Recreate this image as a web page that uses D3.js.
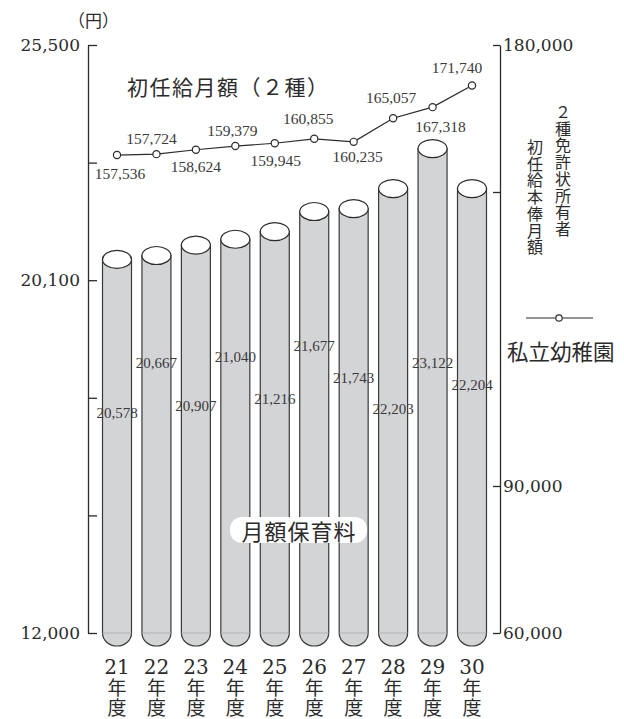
<!DOCTYPE html>
<html>
<head>
<meta charset="utf-8">
<script src="https://cdn.jsdelivr.net/npm/d3@7"></script>
<style>
  body { margin: 0; background: #fff; }
  svg { display: block; }
</style>
</head>
<body>
<div id="chart"></div>
<script>
// data
const years = ["21", "22", "23", "24", "25", "26", "27", "28", "29", "30"];
const hoikuryo = [20578, 20667, 20907, 21040, 21216, 21677, 21743, 22203, 23122, 22204];
const shoninkyu = [157536, 157724, 158624, 159379, 159945, 160855, 160235, 165057, 167318, 171740];
const leftTicks = [12000, 14700, 17400, 20100, 22800, 25500];
const leftLabeled = [12000, 20100, 25500];
const rightTicks = [60000, 90000, 150000, 180000];
const rightLabeled = [60000, 90000, 180000];

// label layout (pixels)
const barLabelY = [413, 363, 406, 357, 399, 346, 378, 409, 363, 385];
const lineLabelDx = [3, -5, 0, -3, 1, -6, 4, -2, 8, -15];
const lineLabelDy = [18, -16, 17, -16, 17, -20, 15, -21, 19, -18];

const width = 624, height = 719;
const baseY = 633, topY = 45;
const axisLeftX = 88, axisRightX = 500;
const jpFont = "'Noto Sans CJK JP', 'Noto Sans', sans-serif";
const numFont = "'DejaVu Serif', serif";
const labFont = "'Liberation Serif', serif";
const ink = "#2b2b2b";

const svg = d3.select("#chart").append("svg")
    .attr("width", width)
    .attr("height", height);

// scales
const x = d3.scalePoint().domain(years).range([117, 472]);
const yL = d3.scaleLinear().domain([12000, 25500]).range([baseY, topY]);
const yR = d3.scaleLinear().domain([60000, 180000]).range([baseY, topY]);

// left axis
const leftAxis = svg.append("g")
    .attr("transform", `translate(${axisLeftX},0)`)
    .call(d3.axisLeft(yL)
        .tickValues(leftTicks)
        .tickSizeInner(-9)
        .tickSizeOuter(0)
        .tickPadding(8)
        .tickFormat(d => leftLabeled.includes(d) ? d3.format(",")(d) : ""));
leftAxis.select(".domain").attr("stroke", ink).attr("stroke-width", 1.3);
leftAxis.selectAll(".tick line").attr("stroke", ink).attr("stroke-width", 1.3);
leftAxis.selectAll(".tick text")
    .attr("fill", ink)
    .style("font-family", numFont)
    .style("font-size", "17px");

// right axis
const rightAxis = svg.append("g")
    .attr("transform", `translate(${axisRightX},0)`)
    .call(d3.axisRight(yR)
        .tickValues(rightTicks)
        .tickSizeInner(-7)
        .tickSizeOuter(0)
        .tickPadding(3)
        .tickFormat(d => rightLabeled.includes(d) ? d3.format(",")(d) : ""));
rightAxis.select(".domain").attr("stroke", ink).attr("stroke-width", 1.3);
rightAxis.selectAll(".tick line").attr("stroke", ink).attr("stroke-width", 1.3);
rightAxis.selectAll(".tick text")
    .attr("fill", ink)
    .style("font-family", numFont)
    .style("font-size", "17px");

svg.append("text")
    .attr("x", 68)
    .attr("y", 19)
    .attr("dominant-baseline", "central")
    .attr("fill", ink)
    .style("font-family", jpFont)
    .style("font-size", "17px")
    .text("（円）");

// cylinders
const rx = 14.5, ry = 9, bottomRy = 13;
const bars = svg.append("g").selectAll("g")
    .data(years.map((y, i) => ({ year: y, value: hoikuryo[i], i })))
    .join("g");

bars.append("path")
    .attr("d", d => {
        const cx = x(d.year), top = yL(d.value);
        return `M${cx - rx},${top} L${cx - rx},${baseY} A${rx},${bottomRy} 0 0 0 ${cx + rx},${baseY} L${cx + rx},${top} Z`;
    })
    .attr("fill", "#d3d4d6")
    .attr("stroke", "#3a3a3a")
    .attr("stroke-width", 1.2);

bars.append("line")
    .attr("x1", d => x(d.year) - rx)
    .attr("x2", d => x(d.year) + rx)
    .attr("y1", baseY)
    .attr("y2", baseY)
    .attr("stroke", "#a9aaac")
    .attr("stroke-width", 0.8);

bars.append("ellipse")
    .attr("cx", d => x(d.year))
    .attr("cy", d => yL(d.value))
    .attr("rx", rx)
    .attr("ry", ry)
    .attr("fill", "#fff")
    .attr("stroke", "#2b2b2b")
    .attr("stroke-width", 1.2);

bars.append("text")
    .attr("x", d => x(d.year))
    .attr("y", d => barLabelY[d.i])
    .attr("text-anchor", "middle")
    .attr("dominant-baseline", "central")
    .attr("fill", "#3a3a3a")
    .style("font-family", labFont)
    .style("font-size", "15px")
    .text(d => d3.format(",")(d.value));

// year labels
const yearLabels = svg.append("g").selectAll("g")
    .data(years)
    .join("g")
    .attr("transform", d => `translate(${x(d)},0)`);
yearLabels.append("text")
    .attr("y", 667)
    .attr("text-anchor", "middle")
    .attr("dominant-baseline", "central")
    .attr("fill", ink)
    .style("font-family", numFont)
    .style("font-size", "20px")
    .text(d => d);
yearLabels.append("text")
    .attr("y", 678)
    .attr("text-anchor", "start")
    .attr("fill", ink)
    .style("writing-mode", "vertical-rl")
    .style("font-family", jpFont)
    .style("font-size", "19px")
    .style("letter-spacing", "1px")
    .text("年度");

// label box on the bars
const boxG = svg.append("g");
boxG.append("rect")
    .attr("x", 230)
    .attr("y", 517)
    .attr("width", 137)
    .attr("height", 26)
    .attr("rx", 12)
    .attr("fill", "#fff");
boxG.append("text")
    .attr("x", 299)
    .attr("y", 530)
    .attr("text-anchor", "middle")
    .attr("dominant-baseline", "central")
    .attr("fill", ink)
    .style("font-family", jpFont)
    .style("font-size", "22px")
    .style("letter-spacing", "1px")
    .text("月額保育料");

// line series
const line = d3.line()
    .x((d, i) => x(years[i]))
    .y(d => yR(d));

svg.append("path")
    .datum(shoninkyu)
    .attr("d", line)
    .attr("fill", "none")
    .attr("stroke", ink)
    .attr("stroke-width", 1.2);

svg.append("g").selectAll("circle")
    .data(shoninkyu)
    .join("circle")
    .attr("cx", (d, i) => x(years[i]))
    .attr("cy", d => yR(d))
    .attr("r", 3.6)
    .attr("fill", "#fff")
    .attr("stroke", ink)
    .attr("stroke-width", 1.2);

svg.append("g").selectAll("text")
    .data(shoninkyu)
    .join("text")
    .attr("x", (d, i) => x(years[i]) + lineLabelDx[i])
    .attr("y", (d, i) => yR(d) + lineLabelDy[i])
    .attr("text-anchor", "middle")
    .attr("dominant-baseline", "central")
    .attr("fill", "#3a3a3a")
    .style("font-family", labFont)
    .style("font-size", "15.5px")
    .text(d => d3.format(",")(d));

// title
svg.append("text")
    .attr("x", 127)
    .attr("y", 86)
    .attr("dominant-baseline", "central")
    .attr("fill", ink)
    .style("font-family", jpFont)
    .style("font-size", "21px")
    .style("letter-spacing", "1.5px")
    .text("初任給月額（２種）");

// vertical axis title (two columns, read right to left)
const axisTitleCols = [
    { text: "２種免許状所有者", x: 563, y: 104 },
    { text: "初任給本俸月額", x: 535, y: 139 }
];
svg.append("g").selectAll("text")
    .data(axisTitleCols)
    .join("text")
    .attr("x", d => d.x)
    .attr("y", d => d.y)
    .attr("text-anchor", "start")
    .attr("fill", ink)
    .style("writing-mode", "vertical-rl")
    .style("font-family", jpFont)
    .style("font-size", "16px")
    .style("letter-spacing", "0.7px")
    .text(d => d.text);

// legend
const legend = svg.append("g");
legend.append("line")
    .attr("x1", 526).attr("x2", 593)
    .attr("y1", 318).attr("y2", 318)
    .attr("stroke", ink)
    .attr("stroke-width", 1.2);
legend.append("circle")
    .attr("cx", 559).attr("cy", 318)
    .attr("r", 3.2)
    .attr("fill", "#fff")
    .attr("stroke", ink)
    .attr("stroke-width", 1.2);
legend.append("text")
    .attr("x", 507)
    .attr("y", 350)
    .attr("dominant-baseline", "central")
    .attr("fill", ink)
    .style("font-family", jpFont)
    .style("font-size", "21.5px")
    .text("私立幼稚園");
</script>
</body>
</html>
